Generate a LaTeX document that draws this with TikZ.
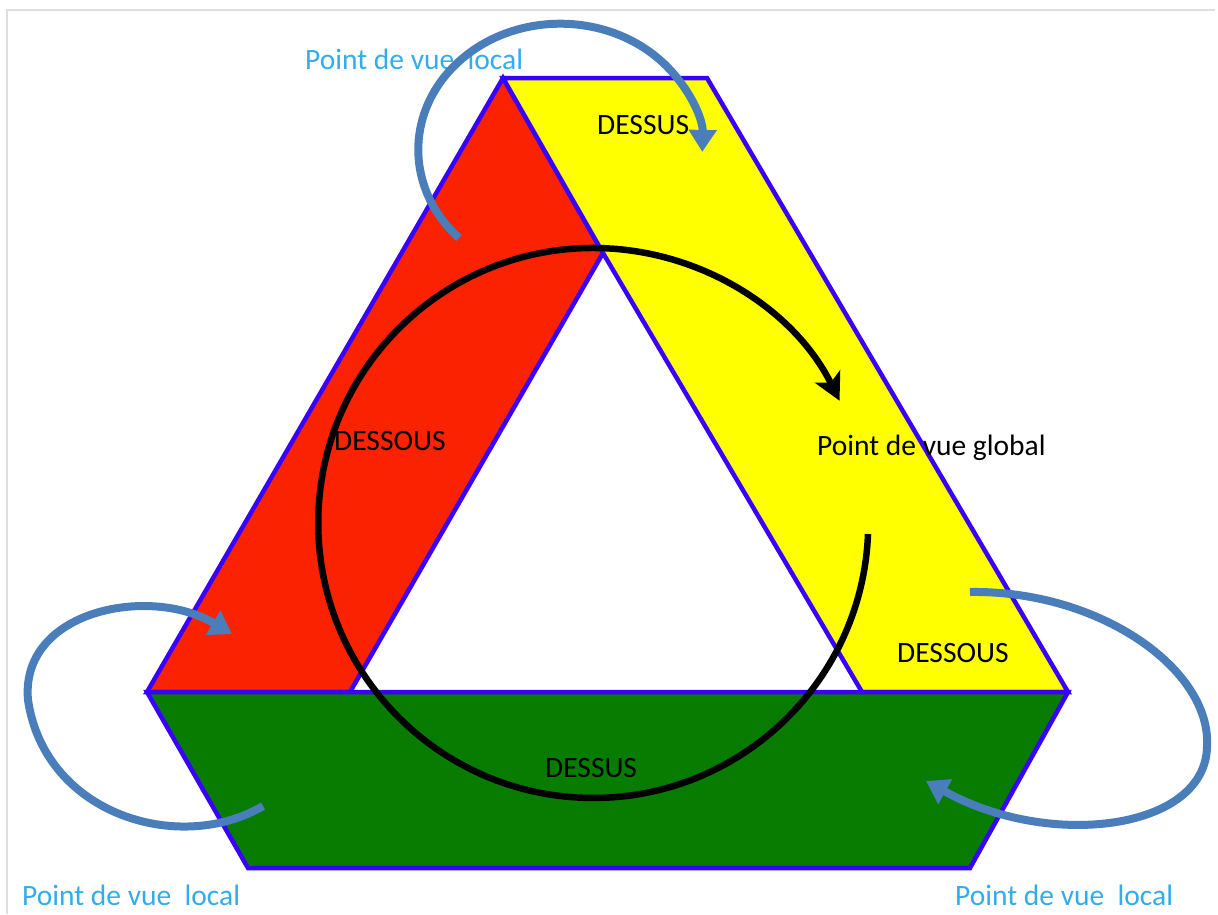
\documentclass[tikz,border=0pt]{standalone}
\usepackage{fontspec}
\setmainfont{Carlito}
\usetikzlibrary{arrows.meta}
\definecolor{redfill}{RGB}{250,34,0}
\definecolor{yelfill}{RGB}{255,255,0}
\definecolor{grnfill}{RGB}{8,124,0}
\definecolor{edgeblue}{RGB}{55,0,255}
\definecolor{loopblue}{RGB}{74,126,187}
\definecolor{txtblue}{RGB}{50,172,235}
\definecolor{framegray}{RGB}{222,222,222}
\tikzset{
  face/.style={draw=edgeblue, line width=4.5pt, line join=miter},
  globalarrow/.style={draw=black, line width=6.5pt, -{Stealth[length=27pt,width=28pt,inset=7pt]}},
  localarrow/.style={draw=loopblue, line width=8pt, -{Triangle[length=22pt,width=27pt]}},
  blacktxt/.style={anchor=base west, inner sep=0pt, text=black, font=\fontsize{29.5}{34}\selectfont},
  bluetxt/.style={anchor=base west, inner sep=0pt, text=txtblue, font=\fontsize{29.5}{34}\selectfont},
  frameline/.style={draw=framegray, line width=2pt}
}
\begin{document}
\begin{tikzpicture}[x=1pt,y=-1pt]
\useasboundingbox (0,0) rectangle (1218,914);
% frame
\coordinate (f1) at (7,914);
\coordinate (f2) at (7,10);
\coordinate (f3) at (1215,10);
\draw[frameline] (f1) -- (f2) -- (f3);
% corners
\coordinate (TL) at (503,78);
\coordinate (TR) at (707,78);
\coordinate (L) at (147,692);
\coordinate (R) at (1068,692);
\coordinate (BL) at (248,868);
\coordinate (BR) at (970,868);
\coordinate (IA) at (603,253);
\coordinate (IL) at (350,692);
\coordinate (IR) at (862,692);
% faces
\filldraw[face, fill=redfill] (TL) -- (IA) -- (IL) -- (L) -- cycle;
\filldraw[face, fill=yelfill] (TL) -- (TR) -- (R) -- (IR) -- (IA) -- cycle;
\filldraw[face, fill=grnfill] (L) -- (R) -- (BR) -- (BL) -- cycle;
% texts
\node[blacktxt] (t1) at (597,134) {DESSUS};
\node[blacktxt] (t2) at (334,450) {DESSOUS};
\node[blacktxt] (t3) at (817,455) {Point de vue global};
\node[blacktxt] (t4) at (897,662) {DESSOUS};
\node[blacktxt] (t5) at (545,777) {DESSUS};
\node[bluetxt] (b1) at (305,69) {Point de vue\ \ local};
\node[bluetxt] (b2) at (22,905) {Point de vue\ \ local};
\node[bluetxt] (b3) at (955,905) {Point de vue\ \ local};
% global arrow
\coordinate (gs) at (868,534);
\draw[globalarrow] (gs) arc[start angle=2.3, end angle=333.6, radius=275];
% local arrows
\coordinate (ts) at (459,238);
\draw[localarrow] (ts) arc[start angle=135.5, end angle=361, x radius=142, y radius=126];
\coordinate (ls) at (263,806);
\coordinate (lm) at (28,700);
\coordinate (le) at (232,634);
\draw[localarrow] (ls) .. controls (180,855) and (45,815) .. (lm) .. controls (20,610) and (150,585) .. (le);
\coordinate (rs) at (970,592);
\coordinate (rm) at (1207,747);
\coordinate (re) at (926,781);
\draw[localarrow] (rs) .. controls (1100,590) and (1212,670) .. (rm) .. controls (1205,830) and (1050,850) .. (re);
\end{tikzpicture}
\end{document}
